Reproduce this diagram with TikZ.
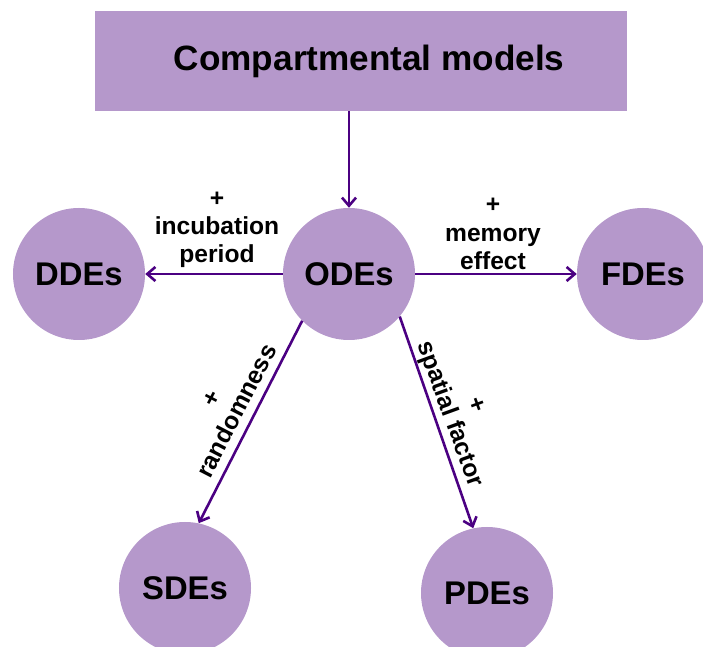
\documentclass[tikz,border=0pt]{standalone}
\usepackage{fontspec}
\setmainfont{Liberation Sans}
\usetikzlibrary{arrows.meta,positioning,shapes}

\definecolor{modelfill}{RGB}{181,152,203}
\definecolor{linkcol}{RGB}{75,0,130}
\def\modelsize{3.96cm}
\def\linkwidth{2.2pt}

\tikzset{
  model/.style={circle, fill=modelfill, minimum size=\modelsize, inner sep=0,
    font=\fontsize{28}{30}\selectfont\bfseries},
  link/.style={-{Straight Barb[length=7pt,width=12pt]}, linkcol, line width=\linkwidth},
  extra/.style={align=center, inner sep=0, font=\fontsize{21}{24}\selectfont\bfseries}
}

\begin{document}
\begin{tikzpicture}[x=0.03cm, y=0.03cm]
  \useasboundingbox (0,0) rectangle (703,646);

  % top box
  \node[fill=modelfill, minimum width=15.96cm, minimum height=3cm, inner sep=0,
    font=\fontsize{30}{32}\selectfont\bfseries] (comp) at (361,585) {\hspace{14pt}Compartmental models};

  % the five models
  \node[model] (ode) at (349,372) {ODEs};
  \node[model] (dde) at (79,372) {DDEs};
  \node[model] (fde) at (643,372) {FDEs};
  \node[model] (sde) at (185,58) {SDEs};
  \node[model] (pde) at (487,53) {PDEs};

  % links
  \draw[link] (ode.north |- comp.south) -- (ode.north);
  \draw[link] (ode) -- (dde);
  \draw[link] (ode) -- (fde);
  \draw[link] (ode.225) -- (sde.78);
  \draw[link] (ode.320) -- (pde.102);

  % what gets added
  \node[extra] (incub) at (217,416) {+\\incubation\\period};
  \node[extra] (memory) at (493,412) {+\\memory\\effect};
  \node[extra, rotate=62.7] (random) at (225,241) {+\\randomness};
  \node[extra, rotate=-70] (spatial) at (461,236) {+\\spatial factor};
\end{tikzpicture}
\end{document}
